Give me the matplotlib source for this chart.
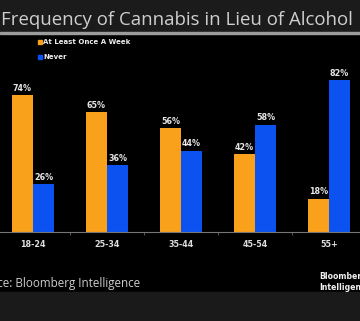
import matplotlib.pyplot as plt
import numpy as np
from matplotlib.patches import Rectangle

ages = ["18-24", "25-34", "35-44", "45-54", "55+"]
weekly = [74, 65, 56, 42, 18]
never = [26, 36, 44, 58, 82]
series_names = ["At Least Once A Week", "Never"]

orange = '#f9a11b'
blue = '#0b52f0'
W, H = 360, 321

fig = plt.figure(figsize=(W / 100, H / 100), dpi=100, facecolor='black')

# header / footer bands
fig.add_artist(Rectangle((0, 1 - 31 / H), 1, 31 / H, transform=fig.transFigure,
                         color='#1b1b1b', zorder=0))
fig.add_artist(Rectangle((0, 1 - 33.5 / H), 1, 1.5 / H, transform=fig.transFigure,
                         color='#9c9c9c', zorder=0))
fig.add_artist(Rectangle((0, 0), 1, (H - 292) / H, transform=fig.transFigure,
                         color='#1a1a1a', zorder=0))

ax = fig.add_axes([-4 / W, 89 / H, 370 / W, 185 / H])
ax.set_facecolor('none')

x = np.arange(len(ages))
width = 0.285
b1 = ax.bar(x - width / 2, weekly, width, color=orange)
b2 = ax.bar(x + width / 2, never, width, color=blue)

for bars, vals in ((b1, weekly), (b2, never)):
    for b, v in zip(bars, vals):
        ax.text(b.get_x() + b.get_width() / 2, v + 1.2, f"{v}%", ha='center', va='bottom',
                color='#e6e6e6', fontsize=5.8, fontweight='bold')

ax.set_xlim(-0.5, len(ages) - 0.5)
ax.set_ylim(0, 100)
ax.set_xticks(x)
ax.set_xticklabels(ages, fontsize=5.8, fontweight='bold', color='#dddddd')
ax.set_xticks(np.arange(len(ages) + 1) - 0.5, minor=True)
ax.tick_params(axis='x', which='major', length=0, pad=6)
ax.tick_params(axis='x', which='minor', length=2, color='#666666')
ax.set_yticks([])
for s in ('top', 'right', 'left'):
    ax.spines[s].set_visible(False)
ax.spines['bottom'].set_color('#777777')
ax.spines['bottom'].set_linewidth(0.8)

# legend drawn by hand: small squares with bold labels
for i, (name, c) in enumerate(zip(series_names, [orange, blue])):
    yy = 1 - (42 + 15 * i) / H
    fig.add_artist(Rectangle((37.5 / W, yy - 2 / H), 4 / W, 4 / H,
                             transform=fig.transFigure, color=c))
    fig.text(43 / W, yy, name, color='#eeeeee', fontsize=5, fontweight='bold',
             va='center', ha='left')

fig.text(1 / W, 1 - 20 / H, "Frequency of Cannabis in Lieu of Alcohol", color='#cfcfcf',
         fontsize=13.4, family='Open Sans', va='center', ha='left')
fig.text(140 / W, 1 - 283 / H, "Source: Bloomberg Intelligence", color='#cccccc',
         fontsize=8.4, family='Open Sans', va='center', ha='right')
fig.text(319 / W, 1 - 282 / H, "Bloomberg\nIntelligence", color='#f0f0f0',
         fontsize=5.6, fontweight='bold', va='center', ha='left', linespacing=1.3)

fig.savefig("out.png", dpi=100, facecolor='black')
